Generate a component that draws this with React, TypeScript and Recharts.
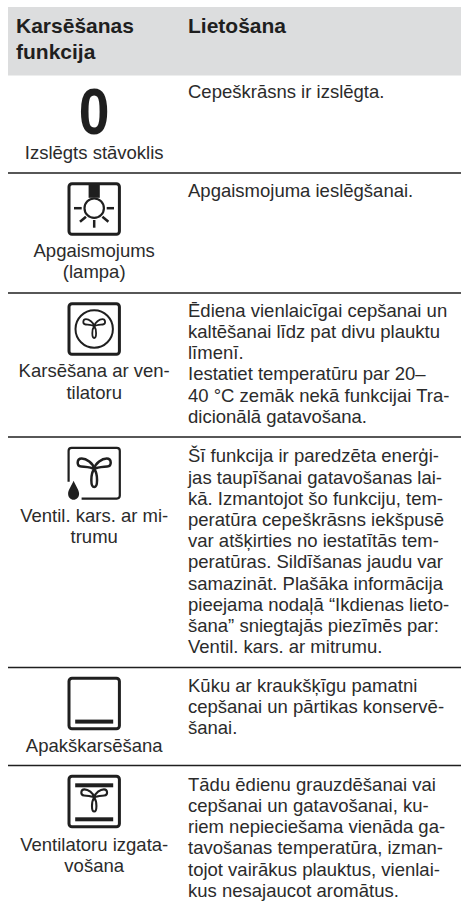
import { Bar, BarChart, XAxis, YAxis } from "recharts";

const rowKeys = ["header", "off", "lamp", "fan", "humid", "bottom", "fanCook"];

// row heights, stacked from the top of the table
const rowHeights = [68.5, 97.5, 120, 144, 230.5, 98, 141.5];

const functionLines = [
  ["Karsēšanas", "funkcija"],
  ["Izslēgts stāvoklis"],
  ["Apgaismojums", "(lampa)"],
  ["Karsēšana ar ven-", "tilatoru"],
  ["Ventil. kars. ar mi-", "trumu"],
  ["Apakškarsēšana"],
  ["Ventilatoru izgata-", "vošana"],
];

const usageLines = [
  ["Lietošana"],
  ["Cepeškrāsns ir izslēgta."],
  ["Apgaismojuma ieslēgšanai."],
  [
    "Ēdiena vienlaicīgai cepšanai un",
    "kaltēšanai līdz pat divu plauktu",
    "līmenī.",
    "Iestatiet temperatūru par 20–",
    "40 °C zemāk nekā funkcijai Tra-",
    "dicionālā gatavošana.",
  ],
  [
    "Šī funkcija ir paredzēta enerģi-",
    "jas taupīšanai gatavošanas lai-",
    "kā. Izmantojot šo funkciju, tem-",
    "peratūra cepeškrāsns iekšpusē",
    "var atšķirties no iestatītās tem-",
    "peratūras. Sildīšanas jaudu var",
    "samazināt. Plašāka informācija",
    "pieejama nodaļā “Ikdienas lieto-",
    "šana” sniegtajās piezīmēs par:",
    "Ventil. kars. ar mitrumu.",
  ],
  [
    "Kūku ar kraukšķīgu pamatni",
    "cepšanai un pārtikas konservē-",
    "šanai.",
  ],
  [
    "Tādu ēdienu grauzdēšanai vai",
    "cepšanai un gatavošanai, ku-",
    "riem nepieciešama vienāda ga-",
    "tavošanas temperatūra, izman-",
    "tojot vairākus plauktus, vienlai-",
    "kus nesajaucot aromātus.",
  ],
];

const chartData = [
  Object.fromEntries([
    ["name", "Karsēšanas funkcija"],
    ...rowKeys.map((key, i) => [key, rowHeights[i]]),
  ]),
];

const INK = "#1f1f1f";
const TEXT = "#2b2b2b";
const FONT = '"Liberation Sans", Arial, sans-serif';
const CENTER = 94.2;
const BODY_SIZE = 18.5;

// baseline of first usage line, and of function labels, measured from row top
const usageBase = [25.5, 22.2, 23.7, 23.7, 25.3, 24.2, 25.2];
const labelBase = [51, 83.8, 83.7, 84, 84.7, 84.8, 85.2];

function Fan({ cx, cy, scale, width }: any) {
  return (
    <g
      transform={`translate(${cx} ${cy}) scale(${scale})`}
      fill="none"
      stroke={INK}
      strokeWidth={width / scale}
      strokeLinejoin="round"
    >
      <path d="M0,-1 C-3.8,4 -3.8,17 0,17 C3.8,17 3.8,4 0,-1 Z" />
      <path d="M0,-1 C-1,-7 -8,-11.5 -12.5,-11.5 C-17.5,-11.5 -18,-4 -13,-3.5 C-8,-3 -3,-3 0,-1 Z" />
      <path d="M0,-1 C1,-7 8,-11.5 12.5,-11.5 C17.5,-11.5 18,-4 13,-3.5 C8,-3 3,-3 0,-1 Z" />
    </g>
  );
}

function Box({ y }: { y: number }) {
  return (
    <rect
      x={CENTER - 25.2}
      y={y}
      width={50.4}
      height={50.4}
      rx={3}
      fill="none"
      stroke={INK}
      strokeWidth={3}
    />
  );
}

function Icon({ row, top }: { row: number; top: number }) {
  const y = top + 10.8;
  const left = CENTER - 19;
  if (row === 1) {
    return (
      <text
        x={0}
        y={0}
        transform={`translate(${CENTER} ${top + 58}) scale(0.85 1)`}
        textAnchor="middle"
        fontFamily={FONT}
        fontWeight="bold"
        fontSize={65}
        fill={INK}
      >
        0
      </text>
    );
  }
  if (row === 2) {
    const c = top + 35.2;
    return (
      <g>
        <Box y={y} />
        <rect x={88.6} y={y} width={11.2} height={14} fill={INK} />
        <circle cx={CENTER} cy={c} r={9.7} fill="none" stroke={INK} strokeWidth={2.2} />
        <g stroke={INK} strokeWidth={2.5} fill="none">
          <path d={`M74 ${c} H81.7`} />
          <path d={`M106.7 ${c} H114`} />
          <path d={`M${CENTER} ${c + 11.8} V${c + 19.5}`} />
          <path d={`M80 ${c + 13.5} L86 ${c + 8.5}`} />
          <path d={`M102.4 ${c + 8.5} L108.4 ${c + 13.5}`} />
        </g>
      </g>
    );
  }
  if (row === 3) {
    return (
      <g>
        <Box y={y} />
        <circle cx={CENTER} cy={y + 25.2} r={18.7} fill="none" stroke={INK} strokeWidth={2} />
        <Fan cx={CENTER} cy={y + 23} scale={0.66} width={1.8} />
      </g>
    );
  }
  if (row === 4) {
    const x0 = CENTER - 25.6;
    const x1 = CENTER + 25.6;
    const y1 = y + 50.8;
    return (
      <g>
        <path
          d={`M${x0} ${y + 34} V${y + 3} Q${x0} ${y} ${x0 + 3} ${y} H${x1 - 3} Q${x1} ${y} ${x1} ${y + 3} V${y1 - 3} Q${x1} ${y1} ${x1 - 3} ${y1} H${x0 + 13}`}
          fill="none"
          stroke={INK}
          strokeWidth={2.2}
        />
        <Fan cx={CENTER} cy={y + 22.2} scale={1} width={2.5} />
        <path
          d={`M${x0 + 5} ${y + 33} C${x0 + 3} ${y + 38} ${x0 - 0.5} ${y + 42} ${x0 - 0.5} ${y + 46} C${x0 - 0.5} ${y + 49.5} ${x0 + 2} ${y + 52} ${x0 + 5} ${y + 52} C${x0 + 8} ${y + 52} ${x0 + 10.5} ${y + 49.5} ${x0 + 10.5} ${y + 46} C${x0 + 10.5} ${y + 42} ${x0 + 7} ${y + 38} ${x0 + 5} ${y + 33} Z`}
          fill={INK}
        />
      </g>
    );
  }
  if (row === 5) {
    return (
      <g>
        <Box y={y} />
        <rect x={left} y={y + 41.3} width={38} height={4} fill={INK} />
      </g>
    );
  }
  if (row === 6) {
    return (
      <g>
        <Box y={y} />
        <rect x={left} y={y + 7} width={38} height={4} fill={INK} />
        <rect x={left} y={y + 41} width={38} height={4} fill={INK} />
        <Fan cx={CENTER} cy={y + 22} scale={0.78} width={2.1} />
      </g>
    );
  }
  return null;
}

function RowShape(props: any) {
  const { x, width, row } = props;
  // the y axis is reversed, so the bar comes with a negative height
  const y = Math.min(props.y, props.y + props.height);
  const height = Math.abs(props.height);
  const isHeader = row === 0;
  const size = isHeader ? 21 : BODY_SIZE;
  const step = isHeader ? 26.5 : 21.2;
  return (
    <g>
      {isHeader ? (
        <rect x={x} y={y} width={width} height={height} fill="#dcddde" />
      ) : row < rowKeys.length - 1 ? (
        <line x1={x} x2={x + width} y1={y + height} y2={y + height} stroke={INK} strokeWidth={1.7} />
      ) : null}

      <Icon row={row} top={y} />

      {functionLines[row].map((line, i) => (
        <text
          key={line}
          x={isHeader ? 16 : CENTER}
          y={isHeader ? y + usageBase[0] + i * step : y + labelBase[row] + i * 21.7}
          textAnchor={isHeader ? "start" : "middle"}
          fontFamily={FONT}
          fontWeight={isHeader ? "bold" : "normal"}
          fontSize={size}
          fill={isHeader ? INK : TEXT}
        >
          {line}
        </text>
      ))}

      {usageLines[row].map((line, i) => (
        <text
          key={line}
          x={188}
          y={y + usageBase[row] + i * step}
          fontFamily={FONT}
          fontWeight={isHeader ? "bold" : "normal"}
          fontSize={size}
          fill={isHeader ? INK : TEXT}
        >
          {line}
        </text>
      ))}
    </g>
  );
}

export default function App() {
  return (
    <div style={{ position: "absolute", left: 0, top: 0, width: 461, height: 907 }}>
      <BarChart
        width={461}
        height={907}
        data={chartData}
        margin={{ top: 7, right: 0, bottom: 0, left: 8 }}
        barCategoryGap={0}
      >
        <XAxis dataKey="name" hide />
        <YAxis hide reversed type="number" domain={[0, 900]} />
        {rowKeys.map((key, i) => (
          <Bar
            key={key}
            dataKey={key}
            stackId="table"
            isAnimationActive={false}
            shape={(props: any) => <RowShape {...props} row={i} />}
          />
        ))}
      </BarChart>
    </div>
  );
}
